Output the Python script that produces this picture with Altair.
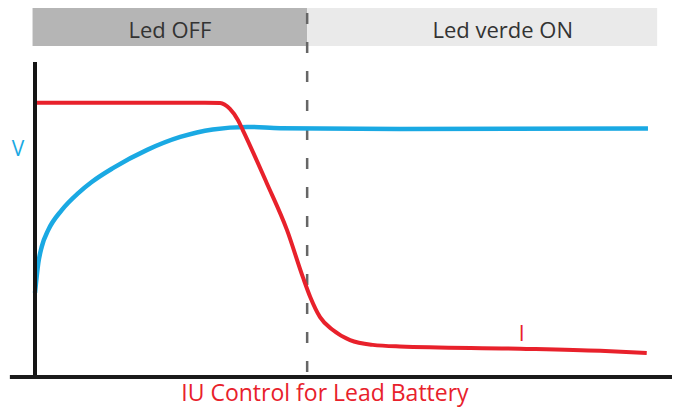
import altair as alt
import pandas as pd

# Charging time (0-100) and normalised level (0-100)
current_t = [0, 27.7, 30.2, 31.8, 33.1, 33.9, 37.8, 41.1, 43.7, 44.9, 46.5, 48.6, 51.4, 55.1, 59.5, 79.1, 92.2, 99.8]
current_v = [87.1, 87.1, 87.0, 85.1, 81.6, 78.4, 61.6, 46.7, 31.7, 25.4, 19.0, 14.9, 11.7, 10.2, 9.7, 9.0, 8.3, 7.6]

voltage_t = [0, 0.54, 1.09, 2.17, 4.36, 7.06, 9.25, 12.7, 18.3, 23.7, 29.0, 34.6, 40.0, 59.5, 100]
voltage_v = [26.7, 36.2, 41.3, 46.7, 53.0, 58.4, 61.9, 66.3, 72.1, 76.2, 78.6, 79.4, 79.0, 78.7, 78.9]

phase_labels = ["Led OFF", "Led verde ON"]
phase_start = [-0.4, 44.4]
phase_end = [44.4, 101.5]
phase_label_t = [22.0, 76.3]
phase_fill = ["#B5B5B5", "#EAEAEA"]
switch_t = 44.4

title_text = "IU Control for Lead Battery"

xs = alt.Scale(domain=[-4.405, 103.92], nice=False, zero=False)
ys = alt.Scale(domain=[-9.52, 117.14], nice=False, zero=False)

def X(f="t"):
    return alt.X(f"{f}:Q", scale=xs, axis=None)

def Y(f="v"):
    return alt.Y(f"{f}:Q", scale=ys, axis=None)

df_i = pd.DataFrame({"t": current_t, "v": current_v})
df_v = pd.DataFrame({"t": voltage_t, "v": voltage_v})
df_ph = pd.DataFrame({"label": phase_labels, "t0": phase_start, "t1": phase_end,
                      "fill": phase_fill, "tm": phase_label_t,
                      "v0": [105.1, 105.1], "v1": [117.14, 117.14], "vb": [107.5, 107.5]})

banner = alt.Chart(df_ph).mark_rect().encode(
    x=X("t0"), x2="t1", y=Y("v0"), y2="v1",
    color=alt.Color("fill:N", scale=None))
banner_text = alt.Chart(df_ph).mark_text(font="Open Sans", fontSize=22, color="#333333",
                                          baseline="alphabetic").encode(
    x=X("tm"), y=Y("vb"), text="label:N")

dash = alt.Chart(pd.DataFrame({"t": [switch_t], "v": [1.6], "v2": [117.14]})).mark_rule(
    color="#666666", strokeWidth=2.5, strokeDash=[11, 18]).encode(x=X(), y=Y(), y2="v2")

vline = alt.Chart(df_v).mark_line(color="#1AA9E3", strokeWidth=4.5, interpolate="monotone").encode(
    x=X(), y=Y())
iline = alt.Chart(df_i).mark_line(color="#E8212B", strokeWidth=4, interpolate="monotone").encode(
    x=X(), y=Y())

yaxis = alt.Chart(pd.DataFrame({"t": [0], "v": [0], "v2": [100]})).mark_rule(
    color="#151515", strokeWidth=4).encode(x=X(), y=Y(), y2="v2")
xaxis = alt.Chart(pd.DataFrame({"t": [-4.1], "t2": [103.92], "v": [0]})).mark_rule(
    color="#1a1a1a", strokeWidth=4).encode(x=X(), x2="t2", y=Y())

side_labels = alt.Chart(pd.DataFrame({"t": [-2.77, 79.4], "v": [70.2, 11.4],
                                      "txt": ["V", "I"],
                                      "c": ["#1AA9E3", "#E8212B"]})).mark_text(
    font="Open Sans", fontSize=21, baseline="alphabetic").encode(
    x=X(), y=Y(), text="txt:N", color=alt.Color("c:N", scale=None))

title = alt.Chart(pd.DataFrame({"t": [47.3], "v": [-7.6], "txt": [title_text]})).mark_text(
    font="Open Sans", fontSize=23, baseline="alphabetic", color="#E8212B").encode(
    x=X(), y=Y(), text="txt:N")

chart = alt.layer(banner, dash, banner_text, vline, iline, yaxis, xaxis, side_labels, title).properties(
    width=664, height=399, autosize=alt.AutoSizeParams(type="none"), padding=0,
    background="white").configure_view(stroke=None)

chart.save("out.html", embed_options={"renderer": "svg", "actions": False})
